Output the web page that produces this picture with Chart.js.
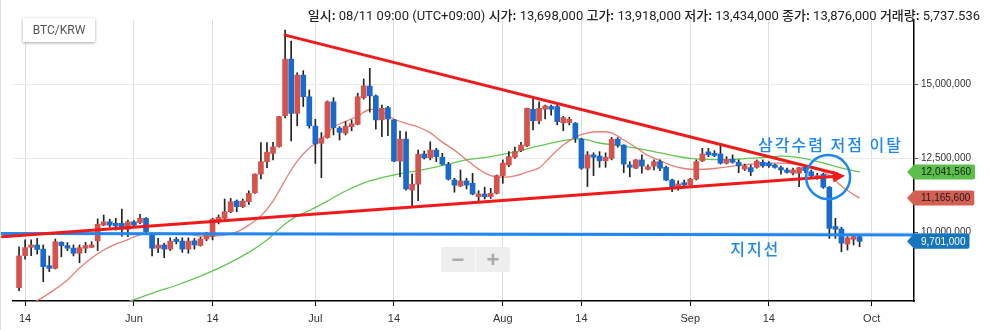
<!DOCTYPE html>
<html>
<head>
<meta charset="utf-8">
<script src="https://cdn.jsdelivr.net/npm/chart.js@4.4.0/dist/chart.umd.min.js"></script>
<style>
  html, body { margin: 0; padding: 0; background: #fff; }
  #wrap { position: relative; width: 991px; height: 330px; overflow: hidden; }
  #chart { position: absolute; left: 0; top: 0; }
  #edge { position: absolute; left: 0; top: 0; width: 1px; height: 330px; background: #ddd; }
  #info { position: absolute; right: 11px; top: 5px; font: 13px Roboto, "Noto Sans CJK KR", sans-serif; color: #222; white-space: nowrap; }
  #info b { font-family: "Noto Sans CJK KR", sans-serif; font-weight: 500; }
  #pair { position: absolute; left: 23px; top: 18px; width: 72px; height: 24px; background: #fff;
          box-shadow: 0 1px 3px rgba(0,0,0,0.35); font: 12px Roboto, sans-serif; color: #555;
          line-height: 24px; text-align: center; }
  #zoom { position: absolute; left: 441px; top: 247px; width: 69px; height: 25px; background: #eee;
          border-radius: 2px; display: flex; }
  #zoom span { flex: 1; text-align: center; font: bold 22px Arial, sans-serif; line-height: 25px; color: #aaa; }
  #zoom span:first-child { border-right: 1px solid #f7f7f7; }
</style>
</head>
<body>
<div id="wrap">
  <canvas id="chart" width="991" height="330"></canvas>
  <div id="edge"></div>
  <div id="pair">BTC/KRW</div>
  <div id="info"></div>
  <div id="zoom"><span>&minus;</span><span>+</span></div>
</div>
<script>
// daily candles, thousand KRW. first candle = 2019-05-13, x axis = days after May 1
const firstDay = 12;
const open = [8140,9220,9500,9580,9440,8880,8790,9670,9560,9470,9300,9470,9500,9720,10250,10360,10310,10310,10110,10360,
  10330,10480,9940,9470,9580,9440,9770,9710,9440,9720,9560,9780,9880,10360,10480,10700,11060,10870,11040,11340,
  11970,12390,12670,12900,13940,15850,14020,15310,14580,13590,13010,13200,14410,13520,13350,13570,13650,14550,14940,14610,
  13800,14210,13800,12410,13150,11430,11630,12650,12520,12780,12540,12300,11770,11570,11740,11660,11210,11300,11210,11320,
  11920,12280,12540,12760,12920,14160,13770,14160,14250,14250,13698,13710,13690,13150,12170,12620,12580,12420,12500,13150,
  12950,12280,12170,12450,12130,12240,12390,12200,11770,11540,11680,11600,11800,12420,12720,12670,12650,12340,12470,12370,
  12140,12190,12200,12370,12340,12280,12190,12110,12000,12000,12200,12050,11830,11960,11530,10200,10120,9610,9770,9860];
const high = [9520,9750,9750,9800,9580,9210,9780,9690,9660,9580,9580,9670,9690,10460,10590,10450,10480,10790,10420,10400,
  10610,10500,9990,9800,9640,9820,9840,9820,9820,9800,9840,10010,10480,10590,11130,11150,11100,11130,11410,11980,
  13030,13030,13040,13920,16830,16460,15390,15460,14810,13820,13370,14440,14550,13570,13740,13800,14700,15180,15540,14640,
  14300,14260,13820,13420,13400,11970,12780,12750,13060,12840,12670,12370,11830,12110,11830,12000,11410,11530,11490,11940,
  12450,12730,12880,13040,14200,14530,14410,14300,14300,14300,13918,13890,13710,13180,12730,12690,12730,12690,13210,13200,
  12960,12390,12460,12620,12280,12450,12450,12240,11800,11740,11770,11830,12450,12840,12840,12760,13010,12560,12620,12450,
  12310,12280,12450,12450,12390,12310,12240,12170,12170,12200,12220,12110,12000,12000,11550,10480,10180,9860,9920,9880];
const low = [8040,9100,9220,9270,8340,8680,8770,9180,9390,9210,8980,9320,9490,9390,10230,10180,10080,9880,9860,10230,
  10300,9990,9210,9320,9150,9390,9610,9330,9300,9440,9540,9720,9750,10290,10450,10670,10700,10840,10950,11320,
  11810,12190,12450,12880,13870,13090,13600,14250,13520,12330,11850,13180,13290,13120,13290,13430,13630,14500,14060,13490,
  13230,13270,12390,11880,11430,10890,11070,12480,12450,12390,12280,11770,11360,11550,11470,11270,11070,11130,11150,11300,
  11660,12220,12500,12730,12900,13460,13660,13830,13960,13630,13434,13630,13040,12130,11550,11920,12200,12200,12450,12880,
  12020,11880,12150,12000,12110,12110,12090,11750,11380,11430,11530,11570,11770,12390,12560,12560,12310,12310,12340,12020,
  12090,11920,12170,12200,12200,12170,11970,12000,11940,11550,12020,11880,11800,11490,9800,9800,9350,9410,9580,9520];
const close = [9210,9490,9580,9430,8850,8790,9690,9560,9470,9300,9490,9560,9580,10280,10360,10250,10220,10110,10360,10250,
  10480,10030,9470,9580,9440,9710,9690,9440,9710,9580,9780,9920,10450,10510,10700,11040,10870,11060,11320,11970,
  12390,12710,12890,13910,15850,14020,15310,14580,13600,12990,13180,14410,13540,13380,13590,13670,14580,14950,14610,13800,
  14190,13830,12410,13150,11470,11630,12640,12520,12780,12560,12300,11800,11600,11740,11600,11300,11300,11210,11320,11920,
  12340,12560,12730,12950,14190,13770,14190,14270,14160,13740,13876,13820,13180,12170,12620,12540,12420,12540,13150,12950,
  12310,12200,12450,12240,12220,12390,12170,11770,11530,11640,11600,11800,12390,12650,12620,12600,12340,12470,12370,12250,
  12250,12050,12410,12250,12250,12200,12110,12030,12110,12190,12090,11910,11920,11530,10140,10110,9640,9820,9860,9701];
const volumeAug11 = 5737.536;

// moving averages read per day
const maShortDay = [14,16,18,20,22,24,26,28,30,32,34,37,40,42,44,46,48,50,52,54,56,58,60,62,64,66,68,70,72,74,76,78,80,82,84,86,88,90,92,94,
  96,98,100,102,104,106,108,110,112,114,116,118,120,122,124,127,130,133,136,139,142,144,146,148,150,151];
const maShortVal = [7590,7820,8090,8400,8800,9140,9410,9610,9760,9920,9970,9970,9940,9880,9880,9920,10020,10250,10560,11060,
  11770,12410,12850,13150,13560,13750,13930,14150,14070,13830,13680,13560,13360,13050,12780,12450,12140,11920,11870,11910,
  12040,12180,12580,12950,13220,13360,13400,13360,13120,12870,12600,12430,12260,12160,12130,12160,12240,12310,12340,12330,
  12260,12170,11910,11570,11280,11165.6];
const maLongDay = [30,34,38,42,46,50,53,56,58,60,63,66,70,74,78,82,86,90,94,98,102,105,108,111,114,117,120,123,127,131,135,138,141,144,147,149,151];
const maLongVal = [7660,7950,8220,8530,8890,9330,9750,10290,10560,10740,11060,11400,11740,11940,12090,12260,12450,12560,12720,12920,
  13100,13160,13020,12940,12850,12730,12600,12500,12460,12480,12530,12580,12530,12400,12230,12130,12041.56];

const tickDays = [13, 31, 44, 61, 74, 92, 105, 123, 136, 153];
const tickLabels = ['14', 'Jun', '14', 'Jul', '14', 'Aug', '14', 'Sep', '14', 'Oct'];
const priceTicks = [10000, 12500, 15000];

// hand-drawn markup, [day, thousand KRW]
const wedgeTop = [[56, 16660], [148.6, 11915]];
const wedgeBottom = [[9.24, 9860], [148.6, 11915]];
const supportLine = [[8.86, 9970], [168.9, 9920]];
const breakCircle = [145.8, 11870];
const breakNote = ['삼각수렴 저점 이탈', 134.2, 12950];
const supportNote = ['지지선', 129.6, 9440];

const UP = '#d5534a', DOWN = '#1a69cd', MARK_BLUE = '#1e88f0';
const fmt = v => Math.round(v * 1000).toLocaleString('en-US');

// header line for the 08/11 candle
const infoIdx = 90;
const infoDate = new Date(Date.UTC(2019, 4, 13 + infoIdx));
const mm = String(infoDate.getUTCMonth() + 1).padStart(2, '0');
const dd = String(infoDate.getUTCDate()).padStart(2, '0');
document.getElementById('info').innerHTML =
  '<b>일시:</b> ' + mm + '/' + dd + ' 09:00 (UTC+09:00) ' +
  '<b>시가:</b> ' + fmt(open[infoIdx]) + ' <b>고가:</b> ' + fmt(high[infoIdx]) +
  ' <b>저가:</b> ' + fmt(low[infoIdx]) + ' <b>종가:</b> ' + fmt(close[infoIdx]) +
  ' <b>거래량:</b> ' + volumeAug11.toLocaleString('en-US', {minimumFractionDigits: 3});

const isUp = open.map((o, i) => close[i] >= o);
const bodies = open.map((o, i) => ({x: firstDay + i, y: [o, close[i]]}));
const wicks = open.map((o, i) => ({x: firstDay + i, y: [low[i], high[i]]}));

const overlays = {
  id: 'overlays',
  afterDatasetsDraw(chart) {
    const {ctx, scales: {x, y}} = chart;
    const px = p => [x.getPixelForValue(p[0]), y.getPixelForValue(p[1])];
    ctx.save();
    ctx.lineCap = 'round';

    // support line
    let a = px(supportLine[0]), b = px(supportLine[1]);
    ctx.strokeStyle = MARK_BLUE;
    ctx.lineWidth = 3;
    ctx.beginPath(); ctx.moveTo(a[0], a[1]); ctx.lineTo(b[0], b[1]); ctx.stroke();

    // triangle lines
    ctx.strokeStyle = '#f01a1a';
    ctx.lineWidth = 3;
    a = px(wedgeTop[0]); b = px(wedgeTop[1]);
    ctx.beginPath(); ctx.moveTo(a[0], a[1]); ctx.lineTo(b[0] - 8, b[1] - 2); ctx.stroke();
    a = px(wedgeBottom[0]); b = px(wedgeBottom[1]);
    const ang = Math.atan2(b[1] - a[1], b[0] - a[0]);
    const bx = b[0] - 12 * Math.cos(ang), by = b[1] - 12 * Math.sin(ang);
    ctx.beginPath(); ctx.moveTo(a[0], a[1]); ctx.lineTo(bx, by); ctx.stroke();
    ctx.fillStyle = '#f01a1a';
    ctx.beginPath();
    ctx.moveTo(b[0], b[1]);
    ctx.lineTo(bx + 6 * Math.sin(ang), by - 6 * Math.cos(ang));
    ctx.lineTo(bx - 6 * Math.sin(ang), by + 6 * Math.cos(ang));
    ctx.closePath(); ctx.fill();

    // breakout circle
    const c = px(breakCircle);
    ctx.strokeStyle = MARK_BLUE;
    ctx.lineWidth = 2.5;
    ctx.beginPath(); ctx.arc(c[0], c[1], 22, 0, Math.PI * 2); ctx.stroke();

    // notes
    ctx.fillStyle = MARK_BLUE;
    ctx.font = '500 16px "Noto Sans CJK KR"';
    ctx.letterSpacing = '2px';
    ctx.textBaseline = 'middle';
    [breakNote, supportNote].forEach(n => {
      const p = px([n[1], n[2]]);
      ctx.fillText(n[0], p[0], p[1]);
    });
    ctx.restore();
  },
  afterDraw(chart) {
    const {ctx, chartArea, scales: {y}} = chart;
    const tags = [
      [maLongVal[maLongVal.length - 1], '#5cbf4a', '#1a1a1a'],
      [maShortVal[maShortVal.length - 1], '#d65f53', '#1a1a1a'],
      [close[close.length - 1], '#1576bd', '#fff']
    ];
    ctx.save();
    ctx.font = '10px "Liberation Sans", Arial';
    ctx.textBaseline = 'middle';
    tags.forEach(([v, bg, fg]) => {
      const yy = y.getPixelForValue(v);
      const text = fmt(v);
      const tx = chartArea.right + 7;
      const right = tx + ctx.measureText(text).width + 4;
      const h = 15, l = chartArea.right - 7;
      ctx.fillStyle = bg;
      ctx.beginPath();
      ctx.moveTo(l, yy);
      ctx.lineTo(l + 7, yy - h / 2);
      ctx.lineTo(right - 2, yy - h / 2);
      ctx.quadraticCurveTo(right, yy - h / 2, right, yy - h / 2 + 2);
      ctx.lineTo(right, yy + h / 2 - 2);
      ctx.quadraticCurveTo(right, yy + h / 2, right - 2, yy + h / 2);
      ctx.lineTo(l + 7, yy + h / 2);
      ctx.closePath();
      ctx.fill();
      ctx.fillStyle = fg;
      ctx.fillText(text, tx, yy + 0.5);
    });
    ctx.restore();
  }
};

Chart.defaults.font.family = '"Liberation Sans", Arial, sans-serif';

new Chart(document.getElementById('chart').getContext('2d'), {
  data: {
    datasets: [
      {
        type: 'bar',
        data: bodies,
        backgroundColor: isUp.map(u => (u ? UP : DOWN)),
        barThickness: 5,
        minBarLength: 1,
        grouped: false,
        order: 0,
      },
      {
        type: 'bar',
        data: wicks,
        backgroundColor: '#222',
        barThickness: 1,
        grouped: false,
        order: 1,
      },
      {
        type: 'line',
        data: maShortDay.map((d, i) => ({x: d, y: maShortVal[i]})),
        borderColor: 'rgba(226,104,92,0.85)',
        borderWidth: 1.3,
        pointRadius: 0,
        tension: 0.35,
        order: 2,
      },
      {
        type: 'line',
        data: maLongDay.map((d, i) => ({x: d, y: maLongVal[i]})),
        borderColor: '#62c852',
        borderWidth: 1.3,
        pointRadius: 0,
        tension: 0.35,
        order: 3,
      },
    ],
  },
  options: {
    responsive: false,
    devicePixelRatio: 1,
    animation: false,
    layout: { padding: { left: 13, top: 20, right: 0, bottom: 0 } },
    plugins: { legend: { display: false }, tooltip: { enabled: false } },
    scales: {
      x: {
        type: 'linear',
        min: 11,
        max: 160,
        offset: false,
        afterBuildTicks: s => { s.ticks = tickDays.map(v => ({value: v})); },
        afterFit: s => { s.height = 29; },
        grid: { color: '#dedede', offset: false, tickColor: '#000', tickLength: 5 },
        border: { color: '#000', width: 1.5 },
        ticks: {
          autoSkip: false,
          maxRotation: 0,
          padding: 6,
          color: '#333',
          font: { size: 11 },
          callback: (v, i) => tickLabels[i],
        },
      },
      y: {
        type: 'linear',
        position: 'right',
        min: 7689,
        max: 17170,
        afterBuildTicks: s => { s.ticks = priceTicks.map(v => ({value: v})); },
        afterFit: s => { s.width = 77; },
        grid: { color: '#ebebeb', tickColor: '#555', tickLength: 4 },
        border: { color: '#000', width: 1.5 },
        ticks: {
          padding: 3,
          color: '#333',
          font: { size: 10 },
          callback: v => fmt(v),
        },
      },
    },
  },
  plugins: [overlays],
});
</script>
</body>
</html>
